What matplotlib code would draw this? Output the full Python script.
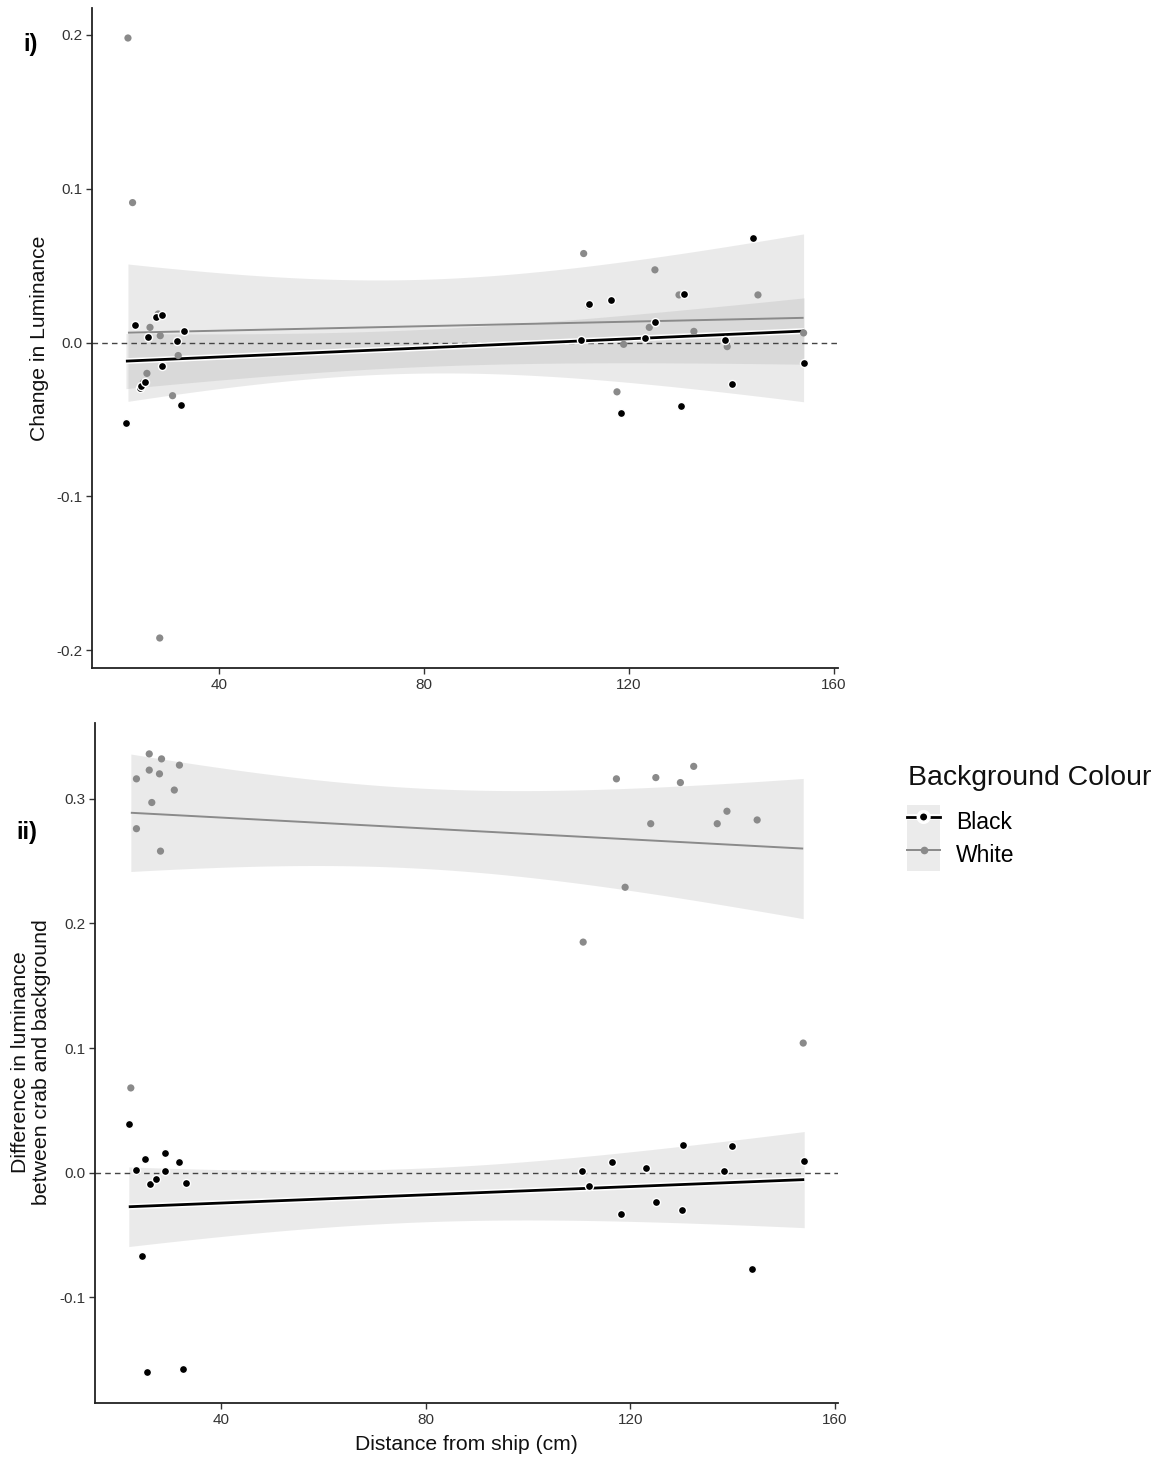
import numpy as np
import matplotlib
matplotlib.use("Agg")
import matplotlib.pyplot as plt
import matplotlib.patheffects as pe
from matplotlib.lines import Line2D
from matplotlib.patches import Patch
from matplotlib.legend_handler import HandlerTuple

plt.rcParams["font.family"] = ["Liberation Sans", "DejaVu Sans"]

# ---- Panel i): change in luminance ----
black_x_i = [21.9, 23.6, 24.6, 24.9, 25.6, 26.2, 27.7, 29.0, 29.0, 31.9, 32.6, 33.2,
             110.6, 112.2, 116.6, 118.4, 123.2, 125.2, 130.2, 130.7, 138.7, 140.1, 144.2, 154.2]
black_y_i = [-0.0525, 0.0115, -0.0292, -0.0281, -0.0259, 0.0037, 0.0164, 0.0177, -0.0151, 0.0008, -0.0406, 0.0073,
             0.0017, 0.0250, 0.0277, -0.0460, 0.0032, 0.0132, -0.0413, 0.0318, 0.0017, -0.0272, 0.0680, -0.0132]
white_x_i = [22.3, 23.2, 23.6, 25.3, 26.0, 26.6, 28.2, 28.5, 28.6, 31.0, 32.1,
             111.2, 112.2, 117.7, 119.0, 124.0, 125.1, 129.8, 132.7, 139.2, 145.2, 154.1]
white_y_i = [0.198, 0.091, 0.011, -0.026, -0.020, 0.0099, 0.0186, -0.192, 0.0045, -0.0345, -0.0084,
             0.0579, 0.024, -0.032, -0.0011, 0.0099, 0.0473, 0.031, 0.0073, -0.0026, 0.031, 0.0063]

# ---- Panel ii): difference between crab and background ----
black_x_ii = [22.0, 23.4, 24.5, 25.2, 25.6, 26.1, 27.4, 29.0, 29.0, 31.9, 32.6, 33.2,
              110.5, 112.0, 116.5, 118.1, 123.1, 125.1, 130.1, 130.3, 138.4, 139.8, 143.7, 154.0]
black_y_ii = [0.039, 0.0024, -0.067, 0.0113, -0.160, -0.0091, -0.0048, 0.0159, 0.001, 0.0089, -0.1575, -0.0083,
              0.001, -0.0105, 0.0086, -0.0328, 0.0038, -0.0237, -0.0298, 0.0223, 0.001, 0.0215, -0.0774, 0.0097]
white_x_ii = [22.4, 23.5, 23.5, 26.0, 26.0, 26.5, 28.0, 28.2, 28.4, 30.9, 31.9,
              110.8, 117.3, 119.0, 124.0, 125.0, 129.8, 132.4, 137.0, 138.9, 144.8, 153.8]
white_y_ii = [0.068, 0.316, 0.276, 0.336, 0.323, 0.297, 0.320, 0.258, 0.332, 0.307, 0.327,
              0.185, 0.316, 0.229, 0.280, 0.317, 0.313, 0.326, 0.280, 0.290, 0.283, 0.104]

x_ticks = [40, 80, 120, 160]
y_ticks_i = [-0.2, -0.1, 0.0, 0.1, 0.2]
y_ticks_ii = [-0.1, 0.0, 0.1, 0.2, 0.3]
groups = ["Black", "White"]

# two-sided 95% Student t quantiles by residual degrees of freedom
T975 = {18: 2.1009, 19: 2.0930, 20: 2.0860, 21: 2.0796, 22: 2.0739, 23: 2.0687}

BLACK = "#000000"
GREY = "#8a8a8a"
FILL = "#999999"


def lm_band(x, y, n_grid=80):
    """Ordinary least squares line with a 95% confidence band."""
    x = np.asarray(x, float)
    y = np.asarray(y, float)
    n = len(x)
    b1, b0 = np.polyfit(x, y, 1)
    grid = np.linspace(x.min(), x.max(), n_grid)
    fit = b0 + b1 * grid
    resid = y - (b0 + b1 * x)
    s = np.sqrt(np.sum(resid ** 2) / (n - 2))
    sxx = np.sum((x - x.mean()) ** 2)
    se = s * np.sqrt(1.0 / n + (grid - x.mean()) ** 2 / sxx)
    t = T975[n - 2]
    return grid, fit, fit - t * se, fit + t * se


halo = [pe.Stroke(linewidth=4.2, foreground="white"), pe.Normal()]


def draw_panel(ax, bx, by, wx, wy, yticks):
    for xs, ys, col, lw, eff in ((bx, by, BLACK, 2.0, halo), (wx, wy, GREY, 1.4, None)):
        g, f, lo, hi = lm_band(xs, ys)
        ax.fill_between(g, lo, hi, color=FILL, alpha=0.2, lw=0, zorder=1)
        ax.plot(g, f, color=col, lw=lw, zorder=3, path_effects=eff,
                solid_capstyle="butt")
    ax.scatter(wx, wy, s=27, color=GREY, edgecolors="none", zorder=4)
    ax.scatter(bx, by, s=34, color=BLACK, edgecolors="white", linewidths=1.0, zorder=5)
    ax.axhline(0, color="#444444", lw=1.0, ls=(0, (4, 3)), zorder=2)

    ax.margins(x=0.05, y=0.05)
    ax.set_xticks(x_ticks)
    ax.set_yticks(yticks)
    ax.set_yticklabels([f"{v:.1f}" for v in yticks])
    for side in ("top", "right"):
        ax.spines[side].set_visible(False)
    for side in ("left", "bottom"):
        ax.spines[side].set_color("#222222")
        ax.spines[side].set_linewidth(1.3)
    ax.tick_params(axis="both", direction="out", length=4, width=1.0,
                   color="#333333", labelcolor="#333333", labelsize=11, pad=3)
    ax.set_facecolor("white")


fig = plt.figure(figsize=(11.59, 14.57), dpi=100)

ax1 = fig.add_axes([92 / 1159, 1 - 668 / 1457, (838 - 92) / 1159, (668 - 8) / 1457])
draw_panel(ax1, black_x_i, black_y_i, white_x_i, white_y_i, y_ticks_i)

ax2 = fig.add_axes([95 / 1159, 1 - 1403 / 1457, (838 - 95) / 1159, (1403 - 723) / 1457])
draw_panel(ax2, black_x_ii, black_y_ii, white_x_ii, white_y_ii, y_ticks_ii)

# axis titles and panel tags
fig.text(40 / 1159, 1 - 338 / 1457, "Change in Luminance", rotation=90,
         ha="center", va="center", fontsize=15.2, color="#111111")
fig.text(31 / 1159, 1 - 1062 / 1457, "Difference in luminance\nbetween crab and background",
         rotation=90, ha="center", va="center", fontsize=15.3, color="#111111",
         linespacing=1.12)
fig.text(466 / 1159, 1 - 1445 / 1457, "Distance from ship (cm)", ha="center", va="center",
         fontsize=15.2, color="#111111")
fig.text(31 / 1159, 1 - 45 / 1457, "i)", ha="center", va="center", fontsize=17,
         fontweight="bold")
fig.text(27 / 1159, 1 - 832 / 1457, "ii)", ha="center", va="center", fontsize=17,
         fontweight="bold")

# legend
fig.text(908 / 1159, 1 - 778 / 1457, "Background Colour", ha="left", va="center",
         fontsize=20.4, color="#111111")
key_bg = Patch(facecolor="#ebebeb", edgecolor="none")
h_black = Line2D([], [], color=BLACK, lw=2.0, marker="o", ms=6, mfc=BLACK,
                 mec="white", mew=1.0, path_effects=halo)
h_white = Line2D([], [], color=GREY, lw=1.4, marker="o", ms=5.5, mfc=GREY, mec="none")
leg = fig.legend([(key_bg, h_black), (key_bg, h_white)], groups,
                 handler_map={tuple: HandlerTuple(ndivide=1, pad=0)},
                 loc="upper left", bbox_to_anchor=(907 / 1159, 1 - 805 / 1457),
                 frameon=False, fontsize=16.5,
                 handlelength=1.45, handleheight=1.85, labelspacing=0.0,
                 handletextpad=0.7, borderpad=0.0, borderaxespad=0.0)

fig.savefig("out.png", dpi=100, facecolor="white")
